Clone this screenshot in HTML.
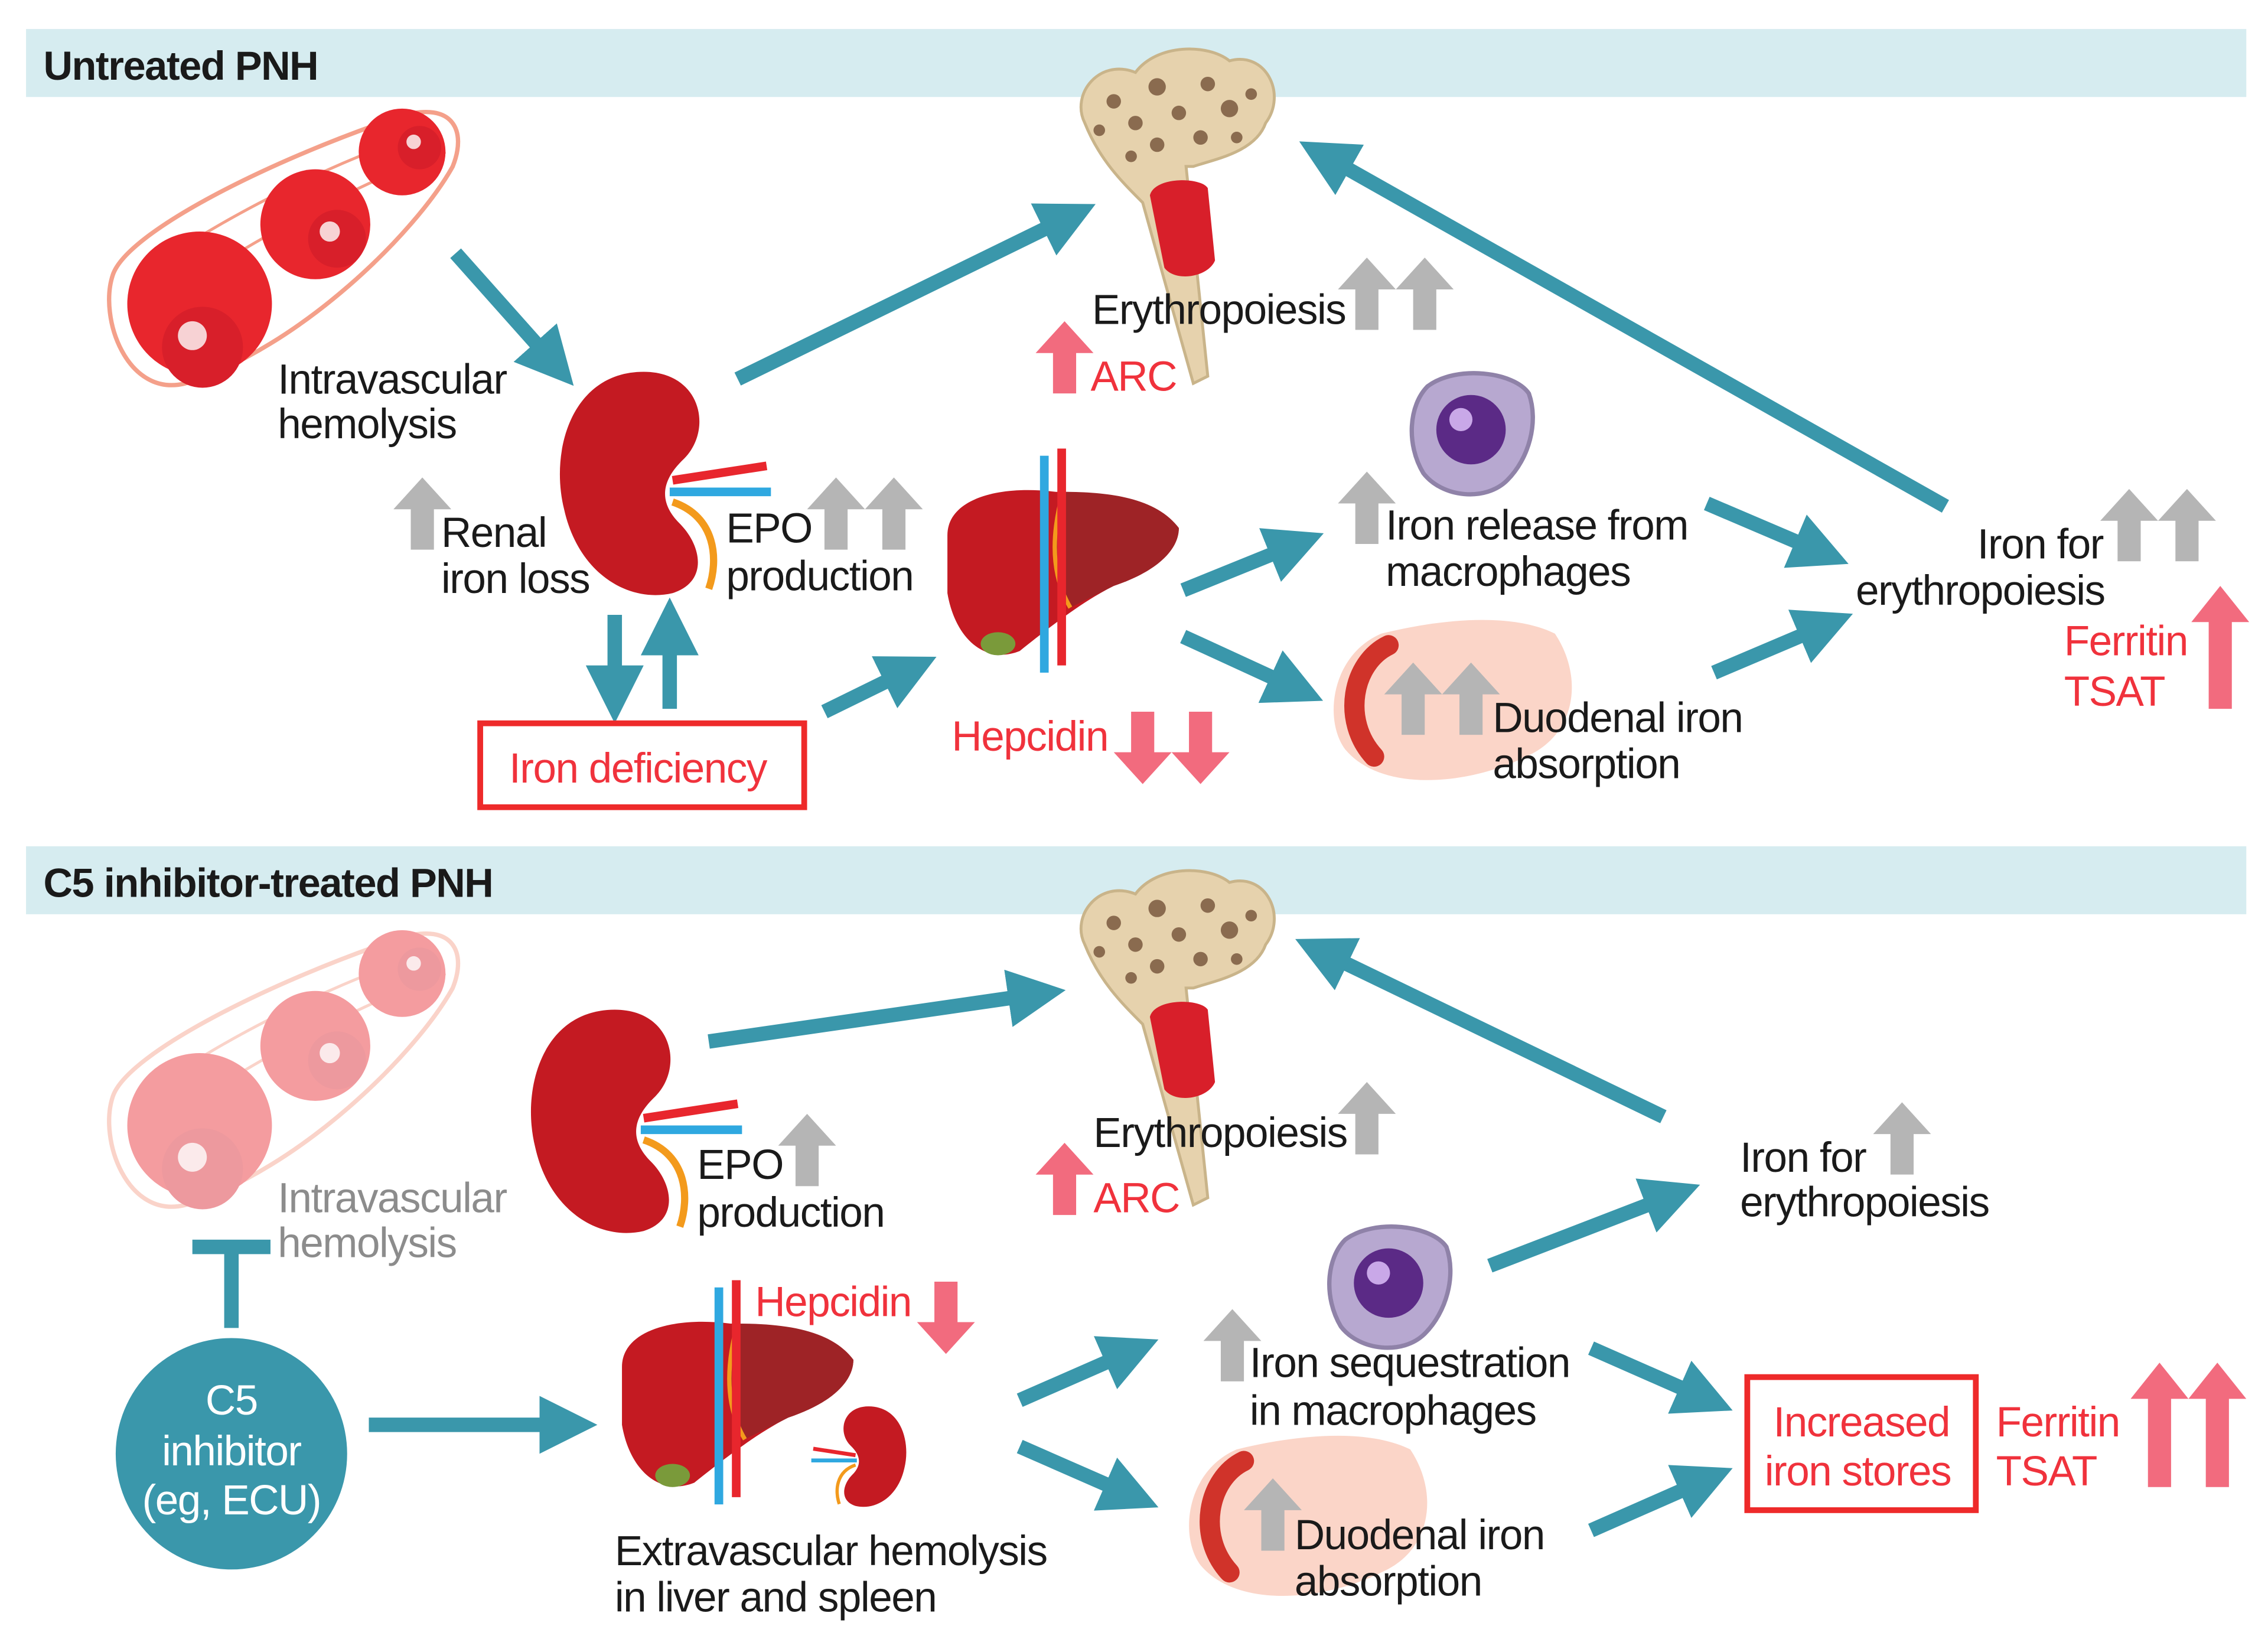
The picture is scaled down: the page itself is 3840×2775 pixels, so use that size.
<!DOCTYPE html>
<html><head><meta charset="utf-8"><style>
html,body{margin:0;padding:0;background:#fff}
svg{display:block}
text{font-family:"Liberation Sans Narrow","Liberation Sans",sans-serif;font-size:29px;fill:#1a1a1a;letter-spacing:-0.6px}
.r{fill:#f0323c}
.g{fill:#8c8c8c}
.w{fill:#fff}
.h{font-weight:bold;font-size:28px}
.ar{stroke:#3a97ab;stroke-width:10;fill:none;marker-end:url(#m)}
</style></head><body>
<svg width="3840" height="2775" viewBox="0 0 1568 1133" xmlns="http://www.w3.org/2000/svg">
<defs>
<marker id="m" markerWidth="4" markerHeight="4" refX="1.5" refY="2" orient="auto" markerUnits="strokeWidth">
<path d="M0,0 L4,2 L0,4 z" fill="#3a97ab"/></marker>
<symbol id="gu" viewBox="0 0 40 50"><polygon points="20,0 40,22 28,22 28,50 12,50 12,22 0,22" fill="#b5b5b5"/></symbol>
<symbol id="pu" viewBox="0 0 40 50"><polygon points="20,0 40,22 28,22 28,50 12,50 12,22 0,22" fill="#f26b7e"/></symbol>
<symbol id="pd" viewBox="0 0 40 50"><polygon points="20,50 40,28 28,28 28,0 12,0 12,28 0,28" fill="#f26b7e"/></symbol>
<symbol id="bone" viewBox="0 0 150 240">
<path d="M10,55 C0,35 20,10 45,20 C60,0 95,0 110,12 C135,5 150,35 135,55 C128,75 100,80 85,85 L80,85 L95,230 L85,235 L50,110 C35,95 20,80 10,55 Z" fill="#e6d2ad" stroke="#c9b48a" stroke-width="2"/>
<g fill="#8a6b4f"><circle cx="30" cy="40" r="5"/><circle cx="45" cy="55" r="5"/><circle cx="60" cy="30" r="6"/><circle cx="75" cy="48" r="5"/><circle cx="95" cy="28" r="5"/><circle cx="110" cy="45" r="6"/><circle cx="125" cy="35" r="4"/><circle cx="60" cy="70" r="5"/><circle cx="90" cy="65" r="5"/><circle cx="20" cy="60" r="4"/><circle cx="42" cy="78" r="4"/><circle cx="115" cy="65" r="4"/></g>
<path d="M55,105 C58,92 90,92 95,100 L100,150 C95,162 72,165 65,155 Z" fill="#d81f2a"/>
</symbol>
<symbol id="kid" viewBox="0 0 150 170">
<path d="M60,5 C10,5 -5,60 5,100 C15,145 50,165 80,158 C105,150 100,125 85,110 C70,95 72,80 88,65 C108,45 100,5 60,5 Z" fill="#c41a22"/>
<path d="M80,80 L145,70" stroke="#e8262d" stroke-width="6"/>
<path d="M78,88 L148,88" stroke="#2fa8e0" stroke-width="6"/>
<path d="M80,95 C110,105 112,135 105,155" stroke="#f39a1c" stroke-width="5" fill="none"/>
</symbol>
<symbol id="liver" viewBox="0 0 170 160">
<path d="M5,60 C5,35 40,25 80,30 C120,30 150,35 165,55 C165,70 150,85 120,95 C100,105 80,120 55,140 C30,150 10,130 5,100 Z" fill="#c41a22"/>
<path d="M85,30 C120,30 150,35 165,55 C165,70 150,85 120,95 L90,110 C75,85 78,55 85,30 Z" fill="#9e2326"/>
<path d="M85,30 C78,55 75,85 90,110" stroke="#f39a1c" stroke-width="3" fill="none"/>
<path d="M72,5 L72,155" stroke="#2fa8e0" stroke-width="6"/>
<path d="M84,0 L84,150" stroke="#e8262d" stroke-width="6"/>
<ellipse cx="40" cy="135" rx="12" ry="8" fill="#7a9a3a"/>
</symbol>
<symbol id="mac" viewBox="0 0 90 95">
<path d="M15,15 C35,0 75,5 85,20 C92,40 85,65 70,80 C55,95 25,92 12,75 C0,55 2,28 15,15 Z" fill="#b7a8d0" stroke="#8f82a8" stroke-width="3"/>
<circle cx="45" cy="45" r="24" fill="#5b2a86"/><circle cx="38" cy="38" r="8" fill="#c9a8e8"/>
</symbol>
<symbol id="duo" viewBox="0 0 180 120">
<path d="M40,10 C80,0 130,-5 160,10 C180,40 175,80 140,95 C100,115 40,120 15,90 C0,70 5,25 40,10 Z" fill="#fbd5c8"/>
<path d="M45,18 C20,30 12,70 35,95" stroke="#d0332a" stroke-width="14" fill="none" stroke-linecap="round"/>
</symbol>
<symbol id="rbc" viewBox="0 0 260 210">
<path d="M10,120 C20,90 120,40 210,10 C245,0 255,20 245,45 C220,90 140,170 60,195 C20,205 0,150 10,120 Z" fill="none" stroke="#f4a08a" stroke-width="3"/>
<path d="M25,125 C60,95 150,45 230,20" stroke="#f4a08a" stroke-width="2" fill="none"/>
<path d="M30,150 C80,110 170,60 240,35" stroke="#f4a08a" stroke-width="2" fill="none"/>
<circle cx="70" cy="140" r="50" fill="#e8262d"/><circle cx="72" cy="170" r="28" fill="#d81f2a"/><circle cx="65" cy="162" r="10" fill="#fff" opacity=".8"/>
<circle cx="150" cy="85" r="38" fill="#e8262d"/><circle cx="165" cy="95" r="20" fill="#d81f2a"/><circle cx="160" cy="90" r="7" fill="#fff" opacity=".8"/>
<circle cx="210" cy="35" r="30" fill="#e8262d"/><circle cx="222" cy="32" r="15" fill="#d81f2a"/><circle cx="218" cy="28" r="5" fill="#fff" opacity=".8"/>
</symbol>
</defs>

<!-- headers -->
<rect x="18" y="20" width="1535" height="47" fill="#d6ecf0"/>
<text x="30" y="55" class="h">Untreated PNH</text>
<rect x="18" y="585" width="1535" height="47" fill="#d6ecf0"/>
<text x="30" y="620" class="h">C5 inhibitor-treated PNH</text>

<!-- TOP illustrations -->
<use href="#rbc" x="68" y="70" width="260" height="210"/>
<use href="#bone" x="740" y="30" width="150" height="240"/>
<use href="#kid" x="385" y="252" width="150" height="170"/>
<use href="#liver" x="650" y="310" width="170" height="160"/>
<use href="#mac" x="972" y="252" width="90" height="95"/>
<use href="#duo" x="915" y="428" width="180" height="120"/>

<!-- TOP arrows -->
<path class="ar" d="M315,175 L380,248"/>
<path class="ar" d="M510,262 L735,152"/>
<path class="ar" d="M1345,350 L920,110"/>
<path class="ar" d="M818,408 L892,378"/>
<path class="ar" d="M818,440 L892,474"/>
<path class="ar" d="M1180,348 L1255,380"/>
<path class="ar" d="M1185,465 L1258,434"/>
<path class="ar" d="M570,492 L625,465"/>
<path class="ar" d="M425,425 L425,475"/>
<path class="ar" d="M463,490 L463,438"/>

<!-- TOP block arrows -->
<use href="#gu" x="925" y="178" width="40" height="50"/>
<use href="#gu" x="965" y="178" width="40" height="50"/>
<use href="#gu" x="272" y="330" width="40" height="50"/>
<use href="#gu" x="558" y="330" width="40" height="50"/>
<use href="#gu" x="598" y="330" width="40" height="50"/>
<use href="#gu" x="925" y="326" width="40" height="50"/>
<use href="#gu" x="957" y="458" width="40" height="50"/>
<use href="#gu" x="997" y="458" width="40" height="50"/>
<use href="#gu" x="1452" y="338" width="40" height="50"/>
<use href="#gu" x="1492" y="338" width="40" height="50"/>
<use href="#pu" x="716" y="222" width="40" height="50"/>
<use href="#pd" x="770" y="492" width="40" height="50"/>
<use href="#pd" x="810" y="492" width="40" height="50"/>
<polygon points="1535,405 1555,430 1543,430 1543,490 1527,490 1527,430 1515,430" fill="#f26b7e"/>

<!-- TOP text -->
<text x="192" y="272">Intravascular</text><text x="192" y="303">hemolysis</text>
<text x="305" y="378">Renal</text><text x="305" y="410">iron loss</text>
<text x="502" y="375">EPO</text><text x="502" y="408">production</text>
<text x="755" y="224">Erythropoiesis</text>
<text x="754" y="270" class="r">ARC</text>
<text x="958" y="373">Iron release from</text><text x="958" y="405">macrophages</text>
<text x="1032" y="506">Duodenal iron</text><text x="1032" y="538">absorption</text>
<text x="1367" y="386">Iron for</text><text x="1283" y="418">erythropoiesis</text>
<text x="1427" y="453" class="r">Ferritin</text><text x="1427" y="488" class="r">TSAT</text>
<text x="658" y="519" class="r">Hepcidin</text>
<rect x="332" y="500" width="224" height="58" fill="none" stroke="#ee2a2a" stroke-width="4"/>
<text x="352" y="541" class="r">Iron deficiency</text>

<!-- BOTTOM illustrations -->
<use href="#rbc" x="68" y="638" width="260" height="210" opacity="0.45"/>
<use href="#bone" x="740" y="598" width="150" height="240"/>
<use href="#kid" x="365" y="693" width="150" height="170"/>
<use href="#liver" x="425" y="885" width="170" height="160"/>
<g transform="translate(560,970) scale(0.45)"><use href="#kid" x="150" y="0" width="150" height="170" transform="scale(-1,1) translate(-300,0)"/></g>
<use href="#mac" x="915" y="842" width="90" height="95"/>
<use href="#duo" x="815" y="992" width="180" height="120"/>

<!-- BOTTOM arrows -->
<path class="ar" d="M490,720 L712,688"/>
<path class="ar" d="M1150,772 L918,660"/>
<path class="ar" d="M255,985 L388,985"/>
<path class="ar" d="M705,968 L778,936"/>
<path class="ar" d="M705,1000 L778,1032"/>
<path class="ar" d="M1030,875 L1152,828"/>
<path class="ar" d="M1100,932 L1175,965"/>
<path class="ar" d="M1100,1058 L1175,1025"/>
<path d="M160,918 L160,862 M133,862 L187,862" stroke="#3a97ab" stroke-width="10" fill="none"/>

<circle cx="160" cy="1005" r="80" fill="#3a97ab"/>
<text x="160" y="978" class="w" text-anchor="middle">C5</text>
<text x="160" y="1013" class="w" text-anchor="middle">inhibitor</text>
<text x="160" y="1047" class="w" text-anchor="middle">(eg, ECU)</text>

<!-- BOTTOM block arrows -->
<use href="#gu" x="925" y="748" width="40" height="50"/>
<use href="#gu" x="538" y="770" width="40" height="50"/>
<use href="#gu" x="832" y="905" width="40" height="50"/>
<use href="#gu" x="860" y="1022" width="40" height="50"/>
<use href="#gu" x="1295" y="762" width="40" height="50"/>
<use href="#pu" x="716" y="790" width="40" height="50"/>
<use href="#pd" x="634" y="886" width="40" height="50"/>
<polygon points="1493,942 1513,967 1501,967 1501,1028 1485,1028 1485,967 1473,967" fill="#f26b7e"/>
<polygon points="1533,942 1553,967 1541,967 1541,1028 1525,1028 1525,967 1513,967" fill="#f26b7e"/>

<!-- BOTTOM text -->
<text x="192" y="838" class="g">Intravascular</text><text x="192" y="869" class="g">hemolysis</text>
<text x="482" y="815">EPO</text><text x="482" y="848">production</text>
<text x="756" y="793">Erythropoiesis</text>
<text x="756" y="838" class="r">ARC</text>
<text x="522" y="910" class="r">Hepcidin</text>
<text x="864" y="952">Iron sequestration</text><text x="864" y="985">in macrophages</text>
<text x="895" y="1071">Duodenal iron</text><text x="895" y="1103">absorption</text>
<text x="1203" y="810">Iron for</text><text x="1203" y="841">erythropoiesis</text>
<rect x="1208" y="952" width="158" height="92" fill="none" stroke="#ee2a2a" stroke-width="4"/>
<text x="1226" y="993" class="r">Increased</text><text x="1220" y="1027" class="r">iron stores</text>
<text x="1380" y="993" class="r">Ferritin</text><text x="1380" y="1027" class="r">TSAT</text>
<text x="425" y="1082">Extravascular hemolysis</text><text x="425" y="1114">in liver and spleen</text>
</svg>
</body></html>
